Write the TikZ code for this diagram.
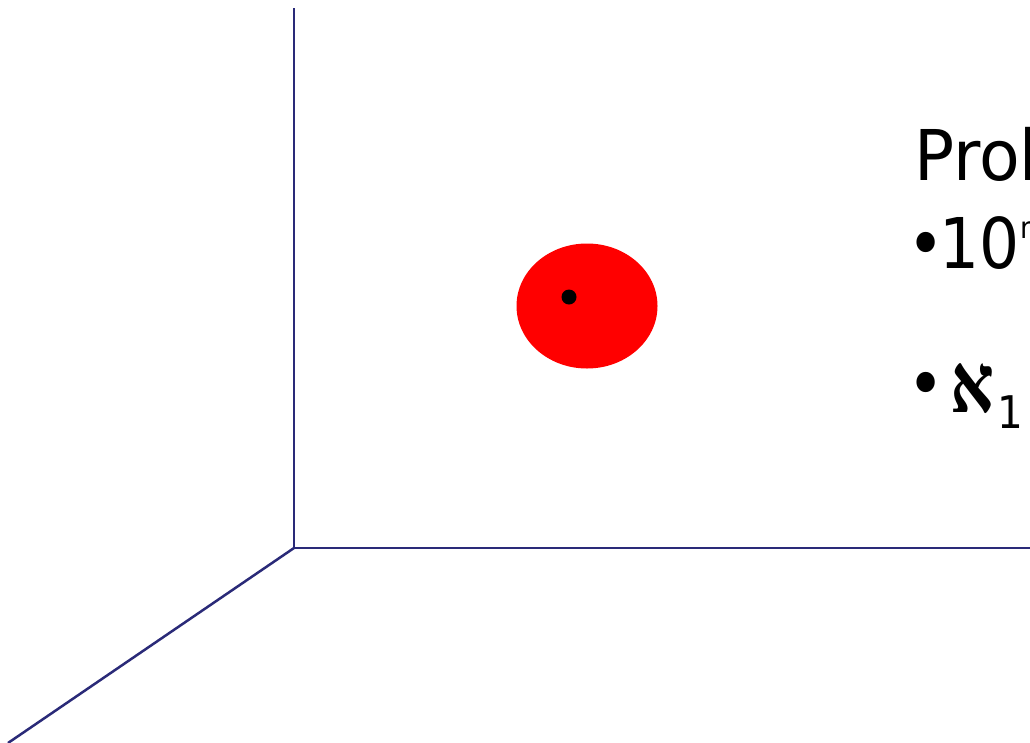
\documentclass[tikz,border=0pt]{standalone}
\usepackage{fontspec}
\usetikzlibrary{shapes.geometric}
\setmainfont{DejaVu Sans}[FakeStretch=0.9]
\newfontfamily\widefont{DejaVu Sans}[FakeStretch=0.95]
\newfontfamily\hebfont[Script=Hebrew]{Liberation Serif}
\TeXXeTstate=1
\definecolor{axis}{RGB}{42,42,120}
\begin{document}
\begin{tikzpicture}[x=1pt,y=-1pt,
  axisline/.style={draw=axis,line width=2.5pt},
  txt/.style={inner sep=0pt,anchor=base west},
  bigtext/.style={txt,font=\fontsize{70}{84}\selectfont}]
\useasboundingbox (0,0) rectangle (1030,742);
\clip (0,0) rectangle (1030,742);
\coordinate (O) at (294,548);
\coordinate (Ztop) at (294,8);
\coordinate (Xend) at (1032,548);
\coordinate (Yend) at (8,743);
\draw[axisline] (Ztop) -- (O) -- (Xend);
\draw[axisline] (O) -- (Yend);
\node[ellipse, fill=red, minimum width=141pt, minimum height=125pt, inner sep=0pt] (ball) at (587,306) {};
\fill[black] (569,297) circle (7.5pt);
\node[bigtext,font=\widefont\fontsize{70}{84}\selectfont] (t1) at (914,180) {Problem};
\node[bigtext] (b2) at (907,268) {•};
\node[bigtext] (t2) at (939,268) {10};
\node[txt,font=\fontsize{30}{36}\selectfont] (s2) at (1020,238) {n};
\node[bigtext] (b3) at (907,408) {•};
\node[txt,font=\hebfont\bfseries\fontsize{72}{88}\selectfont] (al) at (950,412) {\scalebox{0.95}[1.15]{\beginR א\endR}};
\node[txt,font=\fontsize{45}{54}\selectfont] (s3) at (997,428) {1};
\end{tikzpicture}
\end{document}
